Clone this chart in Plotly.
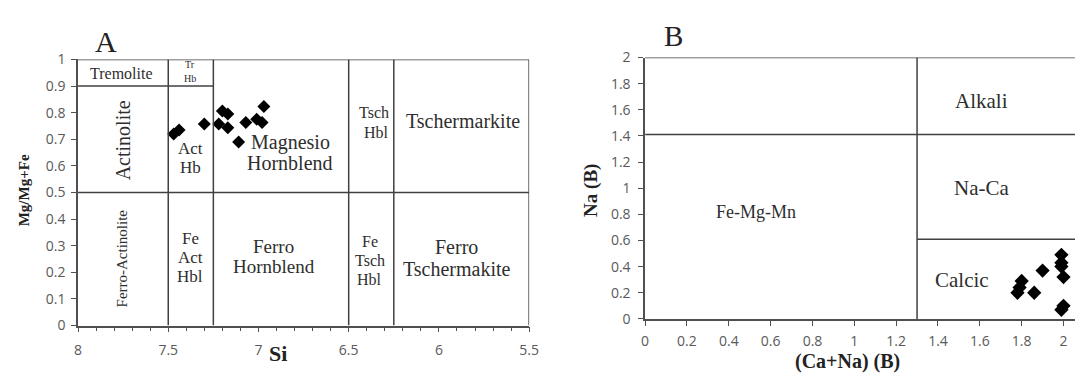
import plotly.graph_objects as go

# --- Panel A: Si vs Mg/(Mg+Fe2+) amphibole classification ---
si_values = [7.47, 7.44, 7.30, 7.22, 7.20, 7.17, 7.17, 7.11, 7.07, 7.01, 6.98, 6.97]
mg_ratio = [0.72, 0.735, 0.757, 0.757, 0.806, 0.795, 0.743, 0.69, 0.763, 0.775, 0.763, 0.823]

# --- Panel B: (Ca+Na)(B) vs Na(B) group classification ---
cana_b = [1.80, 1.79, 1.78, 1.86, 1.90, 1.99, 1.99, 1.99, 2.00, 2.00, 1.99]
na_b = [0.29, 0.24, 0.20, 0.20, 0.37, 0.49, 0.43, 0.40, 0.32, 0.10, 0.07]

# Field boundaries
a_si_bounds = [7.5, 7.25, 6.5, 6.25]
a_mg_split = 0.5
a_tremolite_top = 0.9
b_cana_split = 1.3
b_alkali_na = 1.41
b_calcic_na = 0.61

W, H = 1085, 383
LINE = dict(color="#404040", width=1.5)
SERIF = "Liberation Serif, Times New Roman, DejaVu Serif, serif"
TICKFONT = dict(family="Open Sans", size=14, color="#595959")
LABEL_COLOR = "#2e2e2e"

fig = go.Figure()

fig.add_trace(go.Scatter(
    x=si_values, y=mg_ratio, mode="markers", xaxis="x", yaxis="y",
    marker=dict(symbol="diamond", size=10, color="black"), showlegend=False,
    hoverinfo="x+y",
))
fig.add_trace(go.Scatter(
    x=cana_b, y=na_b, mode="markers", xaxis="x2", yaxis="y2",
    marker=dict(symbol="diamond", size=11, color="black"), showlegend=False,
    hoverinfo="x+y",
))

shapes = []


def seg(x0, y0, x1, y1, ax=""):
    shapes.append(dict(type="line", x0=x0, y0=y0, x1=x1, y1=y1,
                       xref="x" + ax, yref="y" + ax, line=LINE, layer="above"))


# Panel A frame and fields
seg(8, 1, 5.5, 1)
seg(5.5, 0, 5.5, 1)
for s in a_si_bounds:
    seg(s, 0, s, 1)
seg(8, a_mg_split, 5.5, a_mg_split)
seg(8, a_tremolite_top, 7.25, a_tremolite_top)

# Panel B frame and fields
B_XMAX = 2.055
seg(0, 2, B_XMAX, 2, "2")
seg(b_cana_split, 0, b_cana_split, 2, "2")
seg(0, b_alkali_na, B_XMAX, b_alkali_na, "2")
seg(b_cana_split, b_calcic_na, B_XMAX, b_calcic_na, "2")

annotations = []


def field_label(lines, x, y, size, ax="", spacing=None, angle=0, xanchor="center"):
    """Place a (possibly multi-line) field name; each line is its own annotation."""
    spacing = spacing or size
    n = len(lines)
    for i, t in enumerate(lines):
        shift = ((n - 1) / 2 - i) * spacing
        annotations.append(dict(
            text=t, x=x, y=y, xref="x" + ax, yref="y" + ax, showarrow=False,
            yshift=shift, textangle=angle, xanchor=xanchor, yanchor="middle",
            font=dict(family=SERIF, size=size, color=LABEL_COLOR),
        ))


# Panel A fields
field_label(["Tremolite"], 7.76, 0.9475, 16)
field_label(["Tr", "Hb"], 7.377, 0.955, 10, spacing=14)
field_label(["Actinolite"], 7.754, 0.6975, 20, angle=-90)
field_label(["Act", "Hb"], 7.377, 0.63, 17, spacing=19)
field_label(["Magnesio", "Hornblend"], 6.825, 0.65, 20, spacing=21)
field_label(["Tsch", "Hbl"], 6.265, 0.764, 16, spacing=20, xanchor="right")
field_label(["Tschermarkite"], 5.869, 0.768, 20)
field_label(["Ferro-Actinolite"], 7.754, 0.2536, 15, angle=-90)
field_label(["Fe", "Act", "Hbl"], 7.377, 0.257, 17, spacing=19)
field_label(["Ferro", "Hornblend"], 6.915, 0.261, 19, spacing=20)
field_label(["Fe", "Tsch", "Hbl"], 6.383, 0.243, 16, spacing=19)
field_label(["Ferro", "Tschermakite"], 5.902, 0.2525, 20, spacing=22)

# Panel B fields
field_label(["Fe-Mg-Mn"], 0.53, 0.815, 18, ax="2")
field_label(["Alkali"], 1.61, 1.668, 21, ax="2")
field_label(["Na-Ca"], 1.61, 1.004, 21, ax="2")
field_label(["Calcic"], 1.514, 0.296, 21, ax="2")


def paper_text(text, px, py, size, bold=False, angle=0):
    annotations.append(dict(
        text=text,
        x=px / W, y=1 - py / H, xref="paper", yref="paper", showarrow=False,
        xanchor="center", yanchor="middle", textangle=angle,
        font=dict(family=SERIF, size=size, color="#222222",
                  weight="bold" if bold else "normal"),
    ))


# Panel letters and axis titles
paper_text("A", 103, 33, 30)
paper_text("B", 678, 27, 29)
paper_text("Si", 278, 361, 22, bold=True)
paper_text("Mg/Mg+Fe", 20, 190, 15, bold=True, angle=-90)
paper_text("(Ca+Na) (B)", 855, 370, 20, bold=True)
paper_text("Na (B)", 594, 190, 19, bold=True, angle=-90)

axis_common = dict(
    showgrid=False, zeroline=False, showline=True, linecolor="#505050", linewidth=1.5,
    ticks="outside", ticklen=5, tickwidth=1, tickcolor="#505050", tickfont=TICKFONT,
)

fig.update_layout(
    width=W, height=H, margin=dict(l=0, r=0, t=0, b=0),
    paper_bgcolor="white", plot_bgcolor="white",
    xaxis=dict(domain=[75 / W, 532 / W], range=[8, 5.5], dtick=0.5, tick0=8,
               anchor="y", ticklabelstandoff=6,
               minor=dict(dtick=0.1, ticks="outside", ticklen=4, tickcolor="#505050",
                          showgrid=False),
               **axis_common),
    yaxis=dict(domain=[1 - 332 / H, 1 - 52 / H], range=[0, 1], dtick=0.1, anchor="x",
               ticklabelstandoff=3, **axis_common),
    xaxis2=dict(domain=[649.5 / W, 1.0], range=[0, B_XMAX], dtick=0.2, tick0=0,
                anchor="y2", ticklabelstandoff=4, **axis_common),
    yaxis2=dict(domain=[1 - 325 / H, 1 - 50 / H], range=[0, 2], dtick=0.2,
                anchor="x2", ticklabelstandoff=5, **axis_common),
    shapes=shapes,
    annotations=annotations,
)

fig.write_html("out.html")
